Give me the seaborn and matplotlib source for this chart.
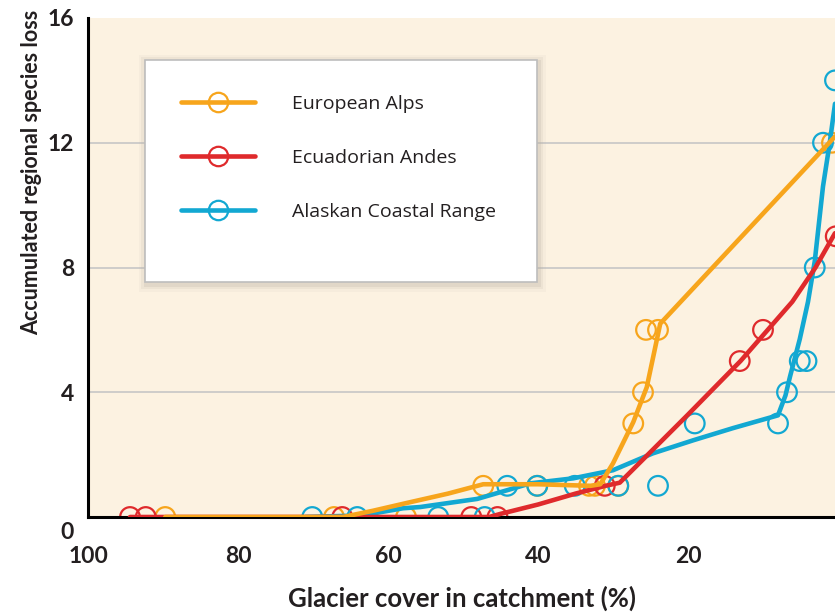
import matplotlib
matplotlib.use("Agg")
import matplotlib.pyplot as plt
from matplotlib.lines import Line2D
from matplotlib.patches import Rectangle
from matplotlib.transforms import ScaledTranslation
import seaborn as sns
import pandas as pd

# observed points (glacier cover %, accumulated species loss)
alps_x = [89.7, 67.2, 57.6, 47.3, 40.1, 33.2, 32.4, 29.3, 27.3, 26.0, 25.6, 24.0, 0.8]
alps_y = [0, 0, 0, 1, 1, 1, 1, 1, 3, 4, 6, 6, 12]
andes_x = [94.4, 92.3, 66.1, 48.9, 45.4, 31.1, 13.1, 10.0, 0.3]
andes_y = [0, 0, 0, 0, 0, 1, 5, 6, 9]
alaska_x = [70.1, 64.1, 53.3, 47.1, 44.1, 40.1, 35.1, 29.3, 24.0, 19.1, 8.0, 6.8, 5.1, 4.2, 3.1, 2.0, 0.4]
alaska_y = [0, 0, 0, 0, 1, 1, 1, 1, 1, 3, 3, 4, 5, 5, 8, 12, 14]

# fitted curves
alps_fit_x = [89.7, 66.0, 62.0, 57.5, 52.0, 47.3, 40.0, 33.0, 31.7, 30.0, 27.3, 25.5, 23.7, 0.4]
alps_fit_y = [0, 0, 0.2, 0.45, 0.75, 1.05, 1.05, 1.0, 1.05, 1.72, 3.04, 4.16, 6.2, 12.2]
andes_fit_x = [94.4, 46.5, 45.0, 40.0, 35.0, 31.0, 29.1, 20.1, 13.0, 6.1, 3.0, 0.4]
andes_fit_y = [0, 0, 0.1, 0.4, 0.75, 1.0, 1.1, 3.26, 5.0, 6.9, 8.0, 9.1]
alaska_fit_x = [71.0, 63.5, 58.0, 55.7, 48.1, 44.1, 41.0, 35.3, 30.0, 24.7, 19.3, 14.0, 8.0,
                7.0, 6.4, 5.1, 4.0, 3.1, 2.0, 1.1, 0.4]
alaska_fit_y = [0, 0.05, 0.28, 0.32, 0.58, 0.86, 1.08, 1.24, 1.5, 2.04, 2.46, 2.85, 3.26,
                3.9, 4.5, 5.7, 6.9, 8.2, 10.6, 12.0, 13.25]

series = ["European Alps", "Ecuadorian Andes", "Alaskan Coastal Range"]
colors = {"European Alps": "#F7A51C", "Ecuadorian Andes": "#DF2A2C", "Alaskan Coastal Range": "#12A8D2"}

pts = pd.concat([
    pd.DataFrame({"x": alps_x, "y": alps_y, "region": series[0]}),
    pd.DataFrame({"x": andes_x, "y": andes_y, "region": series[1]}),
    pd.DataFrame({"x": alaska_x, "y": alaska_y, "region": series[2]}),
])
fits = {
    series[0]: pd.DataFrame({"x": alps_fit_x, "y": alps_fit_y}),
    series[1]: pd.DataFrame({"x": andes_fit_x, "y": andes_fit_y}),
    series[2]: pd.DataFrame({"x": alaska_fit_x, "y": alaska_fit_y}),
}

sns.set_style("white")
plt.rcParams["font.family"] = ["Lato", "DejaVu Sans"]
dark = "#231F20"

fig = plt.figure(figsize=(8.35, 6.14), dpi=100)
ax = fig.add_axes([88 / 835, 97 / 614, 747 / 835, 499 / 614])
ax.set_facecolor("#FCF2E1")

# circles
for name in series:
    d = pts[pts["region"] == name]
    sns.scatterplot(data=d, x="x", y="y", ax=ax, s=200, facecolor="none",
                    edgecolor=colors[name], linewidth=1.6, zorder=2, legend=False)

# fitted lines (cyan under red under orange)
for name in [series[2], series[1], series[0]]:
    sns.lineplot(data=fits[name], x="x", y="y", ax=ax, sort=False, color=colors[name],
                 linewidth=3.3, zorder=3, legend=False)

ax.set_xlim(100, 0.4)
ax.set_ylim(0, 16)
ax.set_xticks([100, 80, 60, 40, 20])
ax.set_yticks([0, 4, 8, 12, 16])
ax.grid(axis="y", color="#C6C6C6", linewidth=1.2)
ax.yaxis.get_gridlines()[-1].set_visible(False)
ax.yaxis.get_gridlines()[0].set_visible(False)
ax.set_axisbelow(True)

for s in ["top", "right"]:
    ax.spines[s].set_visible(False)
for s in ["left", "bottom"]:
    ax.spines[s].set_color("black")
    ax.spines[s].set_linewidth(2.2)

ax.tick_params(axis="x", length=7, width=2, color="black", pad=14, labelsize=16.5)
ax.tick_params(axis="y", length=0, pad=10, labelsize=16.5)
for lab in ax.get_xticklabels() + ax.get_yticklabels():
    lab.set_fontweight("bold")
    lab.set_color(dark)
# "0" sits a bit lower than the axis
lab0 = ax.yaxis.get_major_ticks()[0].label1
lab0.set_transform(lab0.get_transform() + ScaledTranslation(0, -10 / 72, fig.dpi_scale_trans))

ax.set_xlabel("Glacier cover in catchment (%)", fontsize=18.5, fontweight="bold", color=dark, labelpad=13)
ax.set_ylabel("Accumulated regional species loss", fontsize=15.5, fontweight="bold", color=dark, loc="top")
ax.yaxis.set_label_coords(-0.062, 1.016)

# legend box with a soft shadow
box = (145, 60, 537, 282)  # pixel frame of the legend panel
def px(x, y):
    return ((x - 88) / 747, (517 - y) / 499)
x0, y1 = px(box[0], box[1])
x1, y0 = px(box[2], box[3])
for i, a in enumerate([0.08, 0.14, 0.22]):
    g = (3 - i) * 2.5
    gx, gy = g / 747, g / 499
    ax.add_patch(Rectangle((x0 - gx + 1 / 747, y0 - gy - 2 / 499), (x1 - x0) + 2 * gx, (y1 - y0) + 2 * gy,
                           transform=ax.transAxes, facecolor="#B9B0A2", edgecolor="none",
                           alpha=a, zorder=5))
ax.add_patch(Rectangle((x0, y0), x1 - x0, y1 - y0, transform=ax.transAxes,
                       facecolor="white", edgecolor="#BDBDBD", linewidth=1.2, zorder=6))

handles = [Line2D([0], [0], color=colors[n], linewidth=3.3, marker="o", markersize=14,
                  markerfacecolor="none", markeredgecolor=colors[n], markeredgewidth=1.6)
           for n in series]
leg = ax.legend(handles, series, loc="upper left", bbox_to_anchor=px(146, 60),
                borderaxespad=0, frameon=False, fontsize=14, handlelength=3.8,
                handletextpad=1.9, labelspacing=1.85, borderpad=1.8)
leg.set_zorder(7)
for t in leg.get_texts():
    t.set_color(dark)
    t.set_family(["Open Sans", "DejaVu Sans"])

fig.savefig("out.png", dpi=100)
